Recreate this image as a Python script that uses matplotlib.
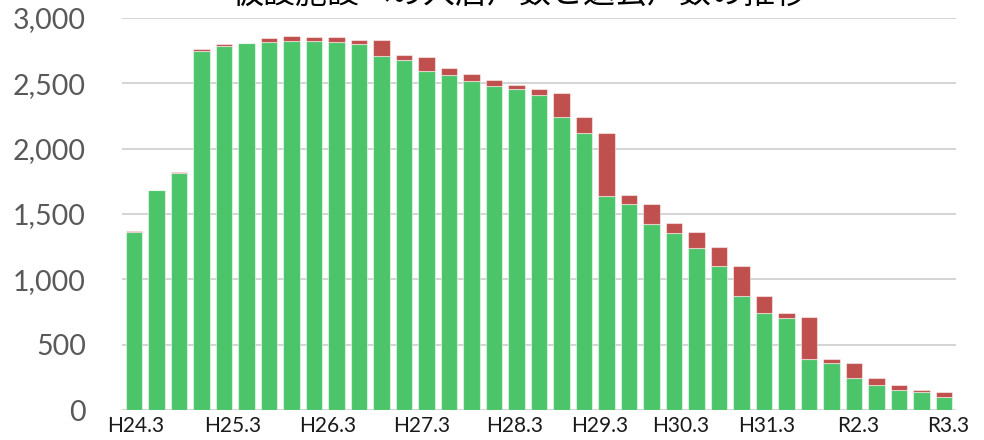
import numpy as np
import matplotlib
matplotlib.use('Agg')
import matplotlib.pyplot as plt

plt.rcParams['font.family'] = ['Lato', 'Noto Sans CJK JP', 'DejaVu Sans']

# quarterly values (H24.3 .. R3.3)
nyukyo = [1360, 1680, 1810, 2745, 2785, 2805, 2815, 2825, 2823, 2817,
          2800, 2710, 2680, 2594, 2563, 2520, 2480, 2457, 2411, 2243,
          2121, 1639, 1573, 1426, 1354, 1239, 1105, 873, 744, 706,
          389, 358, 246, 188, 152, 137, 99]
taikyo = [10, 0, 15, 15, 15, 7, 30, 40, 30, 40,
          35, 125, 36, 106, 51, 51, 44, 28, 46, 181,
          124, 482, 76, 153, 76, 122, 140, 229, 129, 38,
          320, 33, 112, 60, 38, 15, 40]
tick_labels = ['H24.3', 'H25.3', 'H26.3', 'H27.3', 'H28.3',
               'H29.3', 'H30.3', 'H31.3', 'R2.3', 'R3.3']
tick_pos = [0.1, 4.4, 8.6, 12.8, 16.9, 20.7, 24.3, 28.1, 32.2, 36.2]
title = '仮設施設への入居戸数と退去戸数の推移'

GREEN = '#4cc56a'
RED = '#c0504d'

fig = plt.figure(figsize=(9.84, 4.4), dpi=100)
ax = fig.add_axes([122 / 984, 1 - 410 / 440, (956 - 122) / 984, (410 - 18) / 440])

x = np.arange(len(nyukyo))
edge = (1, 1, 1, 0.5)
ax.bar(x, nyukyo, width=0.72, color=GREEN, edgecolor=edge, linewidth=0.8, zorder=3)
ax.bar(x, taikyo, width=0.72, bottom=nyukyo, color=RED, edgecolor=edge,
       linewidth=0.8, zorder=3)

ax.set_xlim(-0.53, len(nyukyo) - 0.47)
ax.set_ylim(0, 3000)
ax.set_yticks(range(0, 3001, 500))
ax.set_yticklabels(['{:,}'.format(v) for v in range(0, 3001, 500)])
ax.set_xticks(tick_pos)
ax.set_xticklabels(tick_labels)

ax.grid(axis='y', color='#d4d4d4', linewidth=1.4, zorder=0)
for s in ax.spines.values():
    s.set_visible(False)
ax.tick_params(axis='y', length=0, pad=26, labelsize=20.5, labelcolor='#595959')
ax.tick_params(axis='x', length=0, pad=4, labelsize=15, labelcolor='#1a1a1a')

# title sits mostly above the frame, as in the original export
fig.text(0.528, 1 - 2.5 / 440, title, ha='center', va='baseline',
         fontsize=23, family=['Noto Sans CJK JP', 'DejaVu Sans'])

fig.savefig('out.png', dpi=100)
